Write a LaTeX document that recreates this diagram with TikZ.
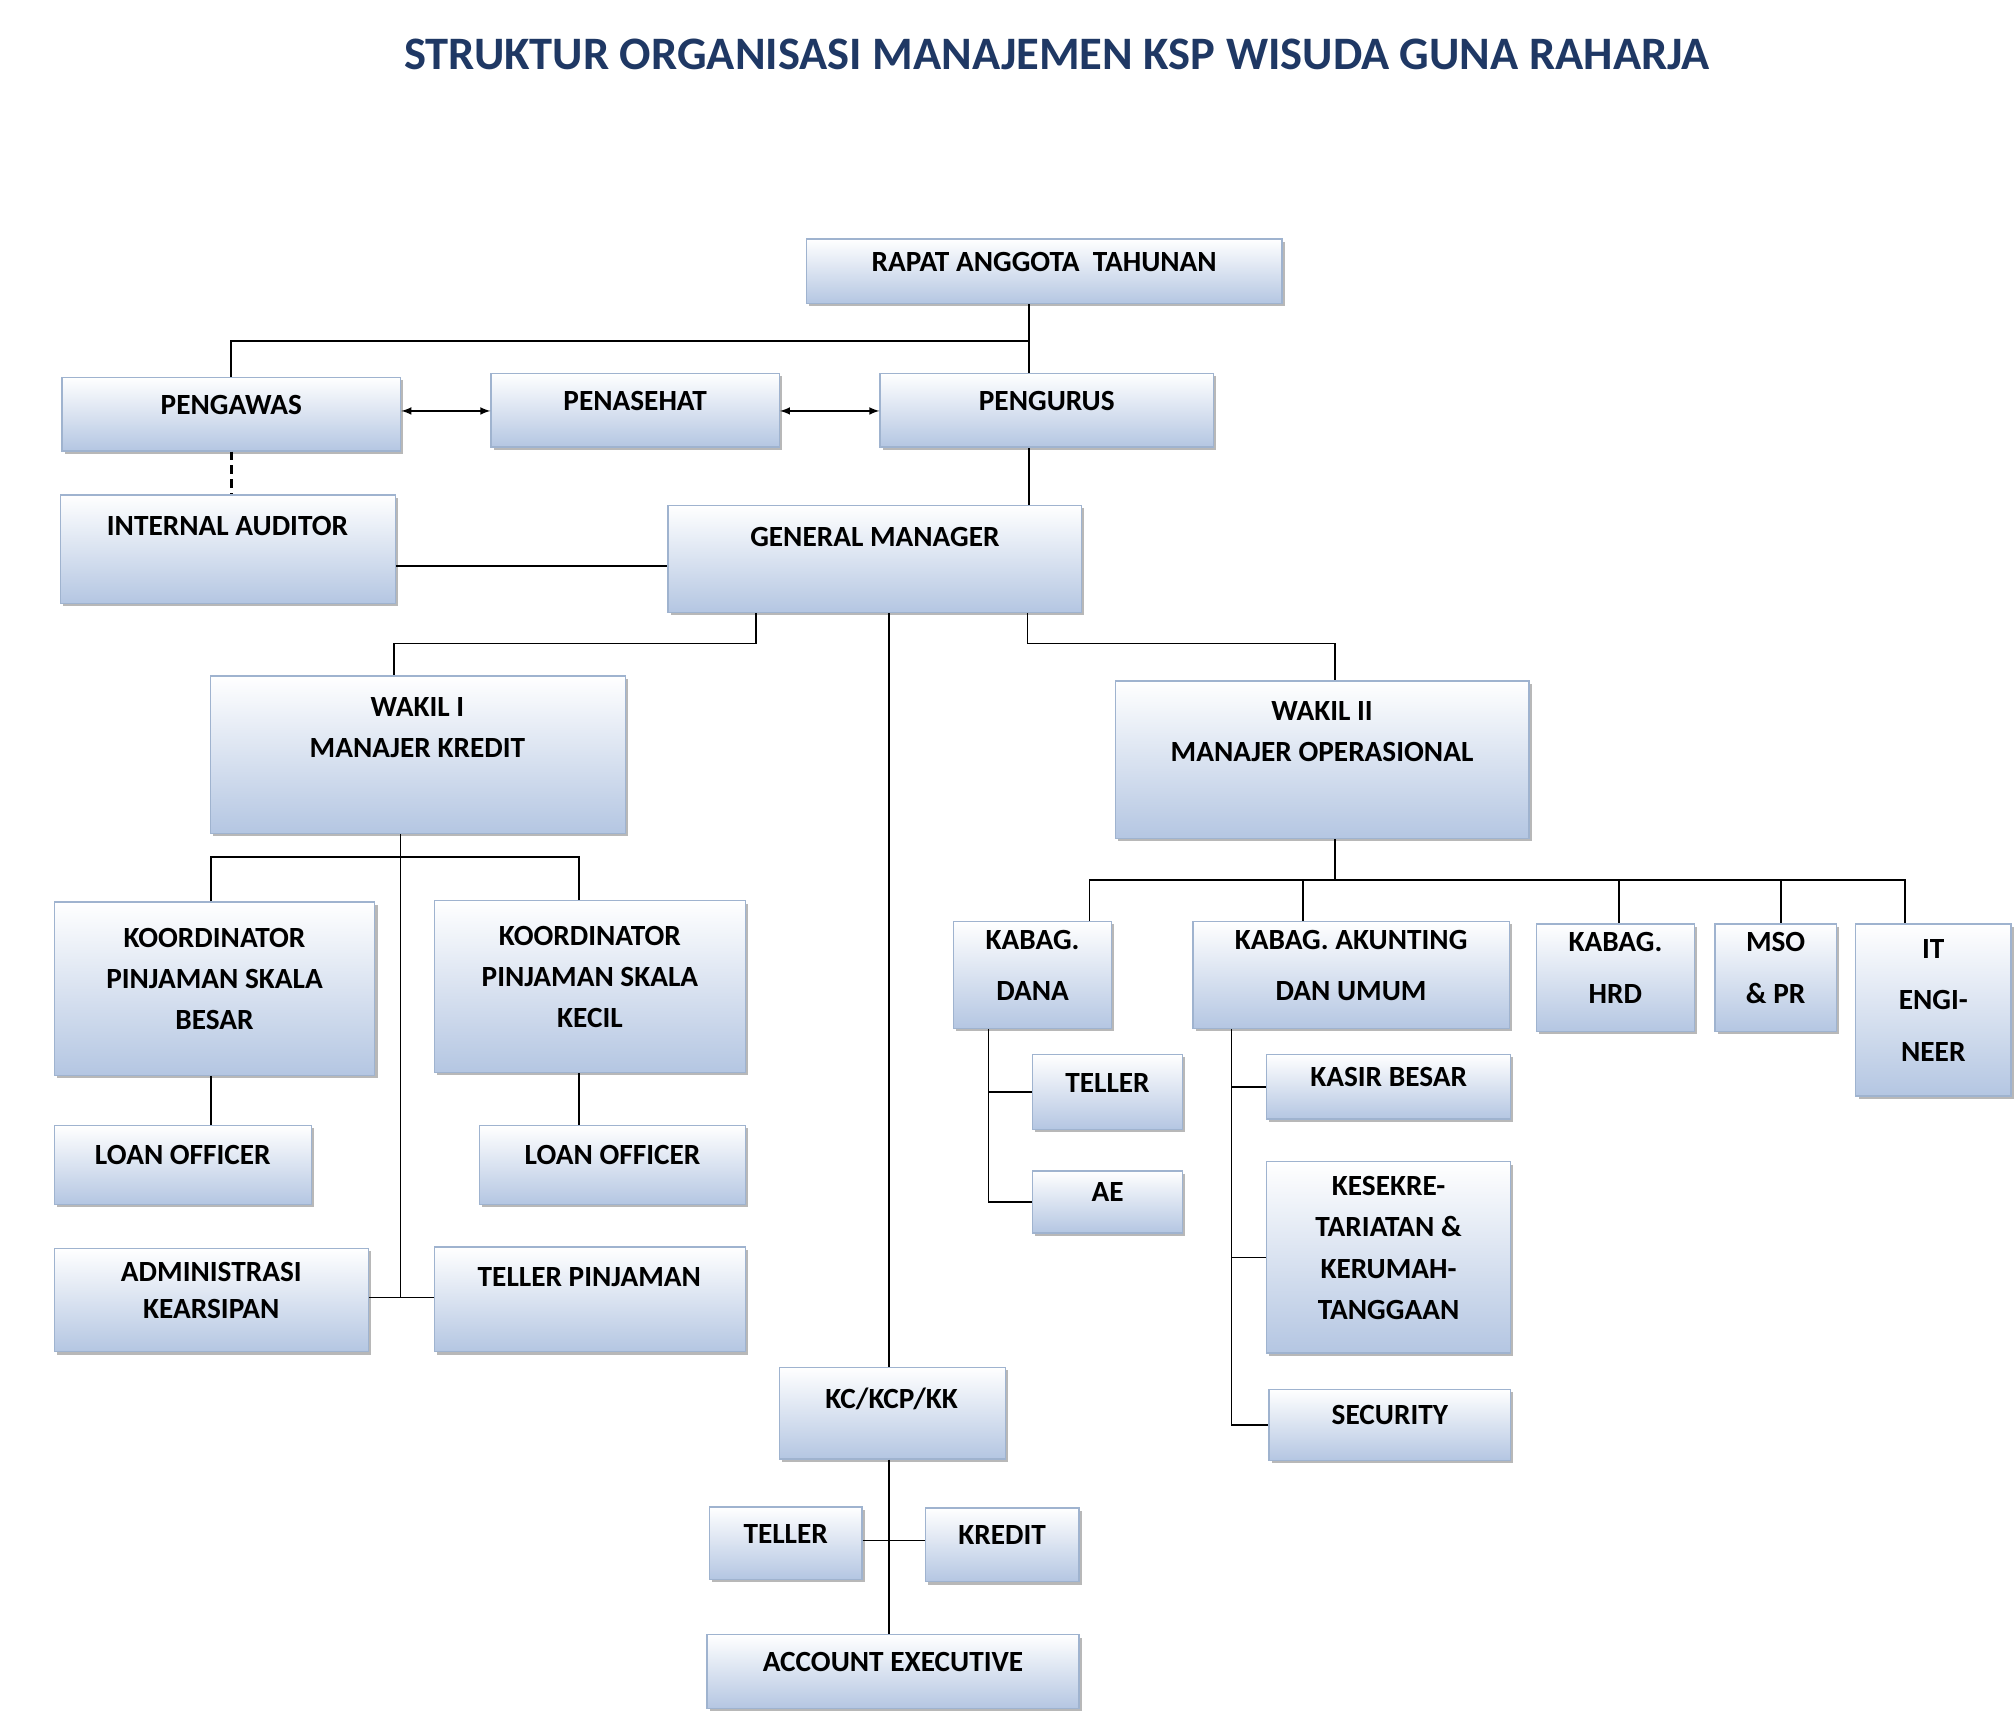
\documentclass[tikz,border=0pt]{standalone}
\usepackage{fontspec}
\setmainfont{Carlito}
\usetikzlibrary{fit,shadows}
\definecolor{ttl}{HTML}{1F3864}
\definecolor{boxb}{HTML}{B4C6E2}
\definecolor{boxd}{HTML}{9FB3CF}
\begin{document}
\begin{tikzpicture}[x=0.75pt,y=-0.75pt,
 box/.style={inner sep=0pt,draw=boxd,line width=0.8pt,top color=white,bottom color=boxb,
   drop shadow={shadow xshift=1.6pt,shadow yshift=-1.6pt,fill=gray!70,opacity=0.8},
   font=\fontsize{17}{24}\selectfont\bfseries,align=center,text=black},
 tl/.style={font=\fontsize{17}{24}\selectfont\bfseries,anchor=north,align=center},
 ln/.style={line width=1pt,black}]
\useasboundingbox (0,0) rectangle (1560,1325);
\node[font=\fontsize{27}{30}\selectfont\bfseries,text=ttl] (title) at (818,42) {STRUKTUR ORGANISASI MANAJEMEN KSP WISUDA GUNA RAHARJA};
% boxes
\node[box,fit={(624,185)(992,235)}] (rapat) {RAPAT ANGGOTA\ \ TAHUNAN};
\node[box,fit={(48,292)(310,349)}] (pengawas) {PENGAWAS};
\node[box,fit={(380,289)(603,346)}] (penasehat) {PENASEHAT};
\node[box,fit={(681,289)(939,346)}] (pengurus) {PENGURUS};
\node[box,fit={(47,383)(306,467)}] (ia) {};
\node[tl] (iat) at (176,395) {INTERNAL AUDITOR};
\node[box,fit={(517,391)(837,474)}] (gm) {};
\node[tl] (gmt) at (677,403) {GENERAL MANAGER};
\node[box,fit={(163,523)(484,645)}] (w1) {};
\node[tl] (w1t) at (323,535) {WAKIL I\\MANAJER KREDIT};
\node[box,fit={(863,527)(1183,649)}] (w2) {};
\node[tl] (w2t) at (1023,538) {WAKIL II\\MANAJER OPERASIONAL};
\node[box,fit={(42,698)(290,832)}] (kb) {KOORDINATOR\\PINJAMAN SKALA\\BESAR};
\node[box,fit={(336,697)(577,830)}] (kk) {KOORDINATOR\\PINJAMAN SKALA\\KECIL};
\node[box,fit={(42,871)(241,932)}] (lo1) {LOAN OFFICER};
\node[box,fit={(371,871)(577,932)}] (lo2) {LOAN OFFICER};
\node[box,fit={(42,966)(285,1046)}] (adm) {ADMINISTRASI\\[-2pt]KEARSIPAN};
\node[box,fit={(336,965)(577,1046)}] (tp) {};
\node[tl] (tpt) at (456,976) {TELLER PINJAMAN};
\node[box,fit={(603,1058)(778,1129)}] (kc) {};
\node[tl] (kct) at (690,1069) {KC/KCP/KK};
\node[box,fit={(549,1166)(667,1222)}] (tk) {TELLER};
\node[box,fit={(716,1167)(835,1224)}] (kr) {KREDIT};
\node[box,fit={(547,1265)(835,1322)}] (aex) {ACCOUNT EXECUTIVE};
\node[box,fit={(738,713)(860,796)}] (kd) {KABAG.\\[6pt]DANA};
\node[box,fit={(923,713)(1168,796)}] (ka) {KABAG. AKUNTING\\[6pt]DAN UMUM};
\node[box,fit={(1189,715)(1311,798)}] (hrd) {KABAG.\\[6pt]HRD};
\node[box,fit={(1327,715)(1421,798)}] (mso) {MSO\\[6pt]\& PR};
\node[box,fit={(1436,715)(1556,848)}] (it) {IT\\[6pt]ENGI-\\[6pt]NEER};
\node[box,fit={(799,816)(915,874)}] (td) {TELLER};
\node[box,fit={(799,906)(915,954)}] (ae) {AE};
\node[box,fit={(980,816)(1169,866)}] (kas) {KASIR BESAR};
\node[box,fit={(980,899)(1169,1047)}] (kes) {KESEKRE-\\TARIATAN \&\\KERUMAH-\\TANGGAAN};
\node[box,fit={(982,1075)(1169,1130)}] (sec) {SECURITY};
% helper coordinates
\coordinate (j1) at (796,264);
\coordinate (iag) at (0,438);
\coordinate (g1) at (585,498);
\coordinate (g1b) at (305,0);
\coordinate (g2) at (795,498);
\coordinate (c1033) at (1033,0);
\coordinate (c688) at (688,0);
\coordinate (t1) at (310,1004);
\coordinate (h1) at (163,663);
\coordinate (h2) at (448,663);
\coordinate (w2a) at (1033,681);
\coordinate (r1) at (843,681);
\coordinate (r2) at (1008,681);
\coordinate (r3) at (1253,681);
\coordinate (r4) at (1378,681);
\coordinate (r5) at (1474,681);
\coordinate (d1) at (765,0);
\coordinate (a1) at (953,0);
\coordinate (ay) at (0,1192);
\coordinate (py) at (0,318);
% connectors
\draw[ln] (rapat.south -| j1) -- (pengurus.north -| j1);
\draw[ln] (j1) -| (pengawas.north);
\draw[ln,<->,>=latex] (pengawas.east |- py) -- (penasehat.west |- py);
\draw[ln,<->,>=latex] (penasehat.east |- py) -- (pengurus.west |- py);
\draw[ln,dashed,dash pattern=on 5pt off 3pt,line width=1.5pt] (pengawas.south) -- (ia.north -| pengawas.south);
\draw[ln] (ia.east |- iag) -- (gm.west |- iag);
\draw[ln] (pengurus.south -| j1) -- (gm.north -| j1);
\draw[ln] (gm.south -| g1) -- (g1) -| (w1.north -| g1b);
\draw[ln] (gm.south -| g2) -- (g2) -| (w2.north -| c1033);
\draw[ln] (gm.south -| c688) -- (kc.north -| c688);
\draw[ln] (w1.south -| t1) -- (t1);
\draw[ln] (adm.east |- t1) -- (tp.west |- t1);
\draw[ln] (kb.north -| h1) -- (h1) -- (h2) -- (kk.north -| h2);
\draw[ln] (kb.south -| h1) -- (lo1.north -| h1);
\draw[ln] (kk.south -| h2) -- (lo2.north -| h2);
\draw[ln] (w2.south -| w2a) -- (w2a);
\draw[ln] (kd.north -| r1) -- (r1) -- (r5) -- (it.north -| r5);
\draw[ln] (r2) -- (ka.north -| r2);
\draw[ln] (r3) -- (hrd.north -| r3);
\draw[ln] (r4) -- (mso.north -| r4);
\draw[ln] (kd.south -| d1) |- (ae.west);
\draw[ln] (d1 |- td.west) -- (td.west);
\draw[ln] (ka.south -| a1) |- (sec.west);
\draw[ln] (a1 |- kas.west) -- (kas.west);
\draw[ln] (a1 |- kes.west) -- (kes.west);
\draw[ln] (kc.south -| c688) -- (aex.north -| c688);
\draw[ln] (tk.east |- ay) -- (kr.west |- ay);
\end{tikzpicture}
\end{document}
